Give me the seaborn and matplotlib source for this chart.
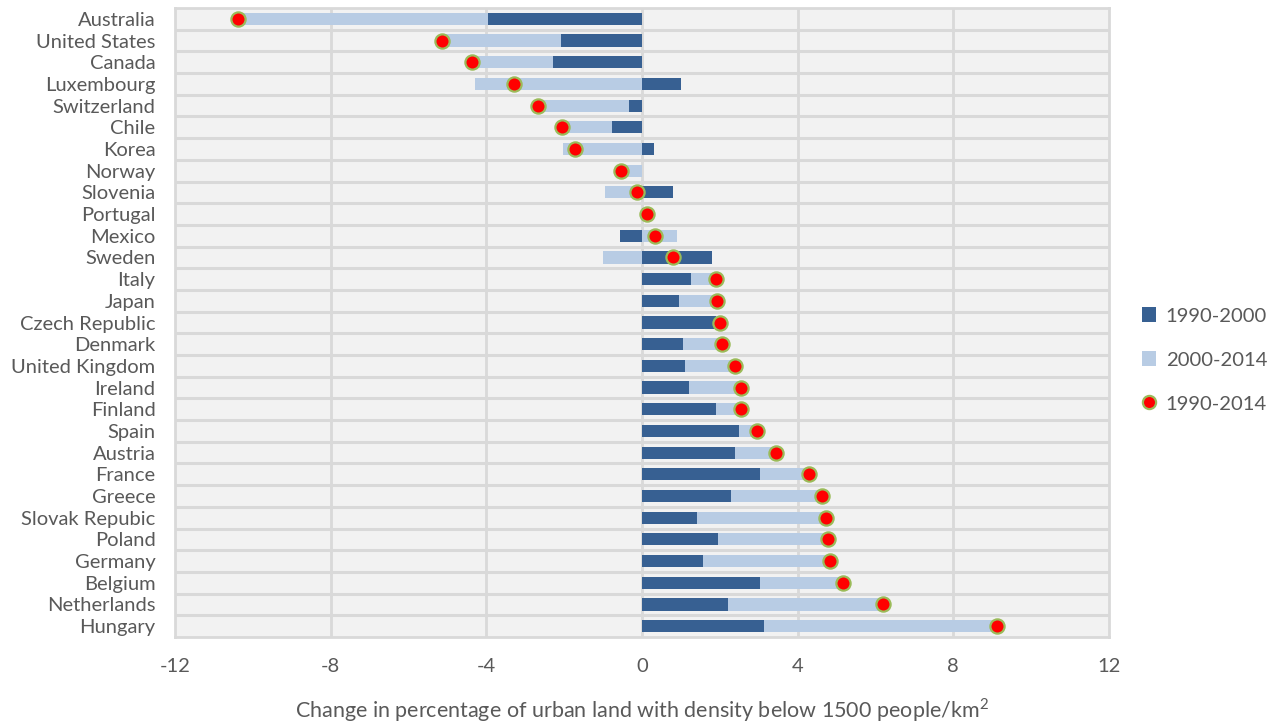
import matplotlib
matplotlib.use("Agg")
import matplotlib.pyplot as plt
from matplotlib.patches import Patch
from matplotlib.lines import Line2D
import numpy as np
import pandas as pd
import seaborn as sns

countries = [
    "Australia", "United States", "Canada", "Luxembourg", "Switzerland", "Chile",
    "Korea", "Norway", "Slovenia", "Portugal", "Mexico", "Sweden", "Italy", "Japan",
    "Czech Republic", "Denmark", "United Kingdom", "Ireland", "Finland", "Spain",
    "Austria", "France", "Greece", "Slovak Repubic", "Poland", "Germany", "Belgium",
    "Netherlands", "Hungary",
]
change_1990_2000 = [
    -3.97, -2.07, -2.28, 1.01, -0.33, -0.76, 0.31, 0.00, 0.80, 0.06, -0.56, 1.80,
    1.26, 0.94, 1.91, 1.05, 1.11, 1.21, 1.91, 2.49, 2.39, 3.03, 2.28, 1.42, 1.96,
    1.57, 3.03, 2.22, 3.14,
]
change_2000_2014 = [
    -6.42, -3.06, -2.09, -4.29, -2.35, -1.29, -2.02, -0.53, -0.94, 0.06, 0.90, -1.00,
    0.63, 1.00, 0.09, 1.01, 1.27, 1.33, 0.63, 0.47, 1.06, 1.27, 2.34, 3.31, 2.82,
    3.27, 2.13, 3.96, 5.99,
]
series_names = ["1990-2000", "2000-2014", "1990-2014"]
x_ticks = [-12, -8, -4, 0, 4, 8, 12]

DARK = "#376092"
LIGHT = "#b8cce4"
DOT = "#ff0000"
DOT_EDGE = "#9bbb59"
GRID = "#d9d9d9"
TEXT = "#595959"

df = pd.DataFrame({
    "country": countries,
    "p1": change_1990_2000,
    "p2": change_2000_2014,
})
df["total"] = df["p1"] + df["p2"]
# Stacked like a spreadsheet chart: values of the same sign pile up,
# opposite signs each start from zero.
same_sign = np.sign(df["p1"]) * np.sign(df["p2"]) > 0
df["p2_outer"] = np.where(same_sign, df["p1"] + df["p2"], df["p2"])

sns.set_theme(style="white")
plt.rcParams["font.family"] = ["Lato", "DejaVu Sans"]

fig = plt.figure(figsize=(12.77, 7.28), dpi=100)
W, H = 1277, 728
ax = fig.add_axes([175 / W, (H - 637) / H, (1109 - 175) / W, (637 - 8) / H])
ax.set_facecolor("#f2f2f2")

sns.barplot(data=df, x="p2_outer", y="country", order=countries, color=LIGHT,
            width=0.56, orient="h", ax=ax, saturation=1, zorder=3)
# cover the inner part of same-sign stacks with the first period
sns.barplot(data=df, x="p1", y="country", order=countries, color=DARK,
            width=0.56, orient="h", ax=ax, saturation=1, zorder=4)
for patch in ax.patches:
    patch.set_linewidth(0)

sns.scatterplot(data=df, x="total", y="country", ax=ax, s=105, color=DOT,
                edgecolor=DOT_EDGE, linewidth=1.6, zorder=6, legend=False)

ax.set_xlim(-12, 12)
ax.set_ylim(len(countries) - 0.5, -0.5)
ax.set_xticks(x_ticks)
ax.set_xticklabels([str(t) for t in x_ticks])
ax.set_yticks(range(len(countries)))
ax.grid(False)
for xv in x_ticks[1:-1]:
    ax.axvline(xv, color=GRID, lw=2, zorder=1)
for yv in np.arange(len(countries) - 1) + 0.5:
    ax.axhline(yv, color=GRID, lw=2.2, zorder=1)
for s in ax.spines.values():
    s.set_color(GRID)
    s.set_linewidth(2)

ax.tick_params(axis="y", which="both", length=0, pad=14, labelsize=14.5, labelcolor=TEXT)
ax.tick_params(axis="x", which="both", length=0, pad=15, labelsize=14.5, labelcolor=TEXT)
ax.set_ylabel("")
ax.set_xlabel("Change in percentage of urban land with density below 1500 people/km$^{\\mathregular{2}}$",
              fontsize=15.5, color=TEXT, labelpad=15)

handles = [
    Patch(facecolor=DARK, edgecolor="none"),
    Patch(facecolor=LIGHT, edgecolor="none"),
    Line2D([], [], marker="o", linestyle="none", markersize=9.5,
           markerfacecolor=DOT, markeredgecolor=DOT_EDGE, markeredgewidth=1.6),
]
fig.legend(handles, series_names, loc="center left",
           bbox_to_anchor=(1124 / W, 1 - 360 / H), frameon=False,
           fontsize=14.6, labelcolor=TEXT, handlelength=0.7, handleheight=0.7,
           handletextpad=0.45, labelspacing=1.32)

fig.savefig("out.png", dpi=100)
